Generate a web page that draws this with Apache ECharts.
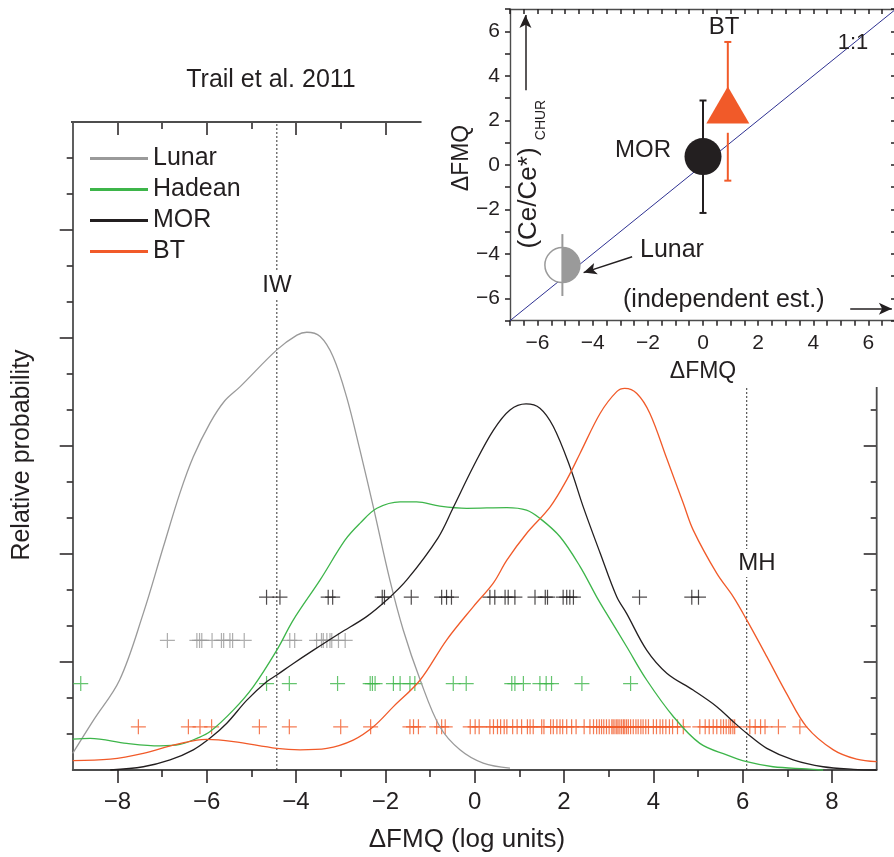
<!DOCTYPE html>
<html>
<head>
<meta charset="utf-8">
<title>Trail et al. 2011 - ΔFMQ</title>
<script src="https://cdn.jsdelivr.net/npm/echarts@6/dist/echarts.min.js"></script>
<style>
    html, body {margin:0; padding:0; background:#fff;}
    #chart {width:894px; height:857px;}
</style>
</head>
<body>
<div id="chart"></div>
<script>
// ---- main panel: density curves [ΔFMQ, relative probability]
var lunarCurve = [[-9,0.46],[-8.53,1.39],[-7.95,2.5],[-7.42,4.35],[-6.97,6.2],[-6.6,7.69],[-6.3,8.7],[-5.93,9.63],[-5.6,10.25],[-5.25,10.65],[-4.43,11.67],[-3.98,12.08],[-3.76,12.16],[-3.46,12.04],[-3.17,11.48],[-2.87,10.37],[-2.57,8.89],[-2.27,7.31],[-1.9,5.28],[-1.6,3.89],[-1.22,2.5],[-0.78,1.2],[-0.33,0.56],[0.19,0.19],[0.79,0.05]];
var hadeanCurve = [[-9,0.86],[-8.61,0.88],[-7.79,0.74],[-7.05,0.67],[-6.6,0.71],[-6.22,0.88],[-5.93,1.06],[-5.4,1.67],[-4.96,2.31],[-4.43,3.33],[-4.06,4.17],[-3.46,5.28],[-2.9,6.39],[-2.57,6.85],[-2.19,7.27],[-1.67,7.45],[-1.3,7.45],[-0.78,7.33],[-0.18,7.27],[0.72,7.29],[1.16,7.22],[1.46,6.99],[1.91,6.48],[2.36,5.65],[2.73,4.81],[2.95,4.35],[3.4,3.43],[3.85,2.5],[4.45,1.48],[5.04,0.74],[5.64,0.42],[6.09,0.23],[6.68,0.09],[7.43,0.03],[7.8,0]];
var morCurve = [[-8.16,0],[-7.42,0.09],[-6.82,0.28],[-6.3,0.56],[-5.93,0.88],[-5.55,1.3],[-5.1,1.94],[-4.66,2.45],[-4.43,2.64],[-4.06,2.96],[-3.61,3.33],[-3.02,3.8],[-2.42,4.26],[-1.97,4.72],[-1.52,5.28],[-0.82,6.45],[-0.48,7.29],[-0.03,8.43],[0.42,9.44],[0.79,10.0],[1.15,10.17],[1.46,10.05],[1.76,9.54],[2.13,8.43],[2.43,7.31],[2.81,6.02],[3.18,4.81],[3.4,4.35],[3.85,3.33],[4.3,2.69],[4.89,2.22],[5.42,1.76],[5.79,1.34],[6.09,1.02],[6.54,0.6],[7.13,0.28],[7.8,0.09],[8.48,0.02],[9,0]];
var btCurve = [[-9,0.26],[-8.16,0.3],[-7.42,0.46],[-6.75,0.69],[-6.22,0.83],[-6,0.85],[-5.4,0.79],[-4.43,0.6],[-3.91,0.56],[-3.31,0.6],[-2.72,0.83],[-2.27,1.2],[-1.82,1.76],[-1.22,2.5],[-0.63,3.61],[-0.03,4.54],[0.42,5.2],[0.72,5.83],[1.16,6.57],[1.69,7.31],[2.06,8.06],[2.36,8.8],[2.81,9.91],[3.18,10.51],[3.36,10.6],[3.63,10.46],[3.92,9.91],[4.3,8.65],[4.67,7.41],[4.89,6.67],[5.42,5.46],[5.79,4.81],[6.09,4.17],[6.54,3.15],[6.98,2.13],[7.43,1.2],[8.03,0.56],[8.55,0.3],[9,0.23]];

// individual analyses (crosses), ΔFMQ of each
var morPts = [-4.66,-4.36,-3.28,-3.18,-2.07,-2.02,-1.42,-0.74,-0.63,-0.52,0.34,0.45,0.68,0.75,0.9,1.35,1.58,1.63,1.98,2.06,2.13,2.21,3.69,4.86,5.01];
var lunarPts = [-6.88,-6.22,-6.16,-6.11,-5.88,-5.67,-5.62,-5.48,-5.42,-5.16,-4.14,-4.03,-3.54,-3.43,-3.39,-3.31,-3.24,-3.2,-3.05,-2.9];
var hadeanPts = [-8.82,-4.66,-4.15,-3.07,-2.34,-2.29,-2.23,-1.82,-1.67,-1.45,-1.34,-0.48,-0.19,0.83,0.9,1.09,1.46,1.6,1.72,2.4,3.49];
var btPts = [-7.53,-6.41,-6.15,-5.89,-4.82,-4.15,-3.0,-2.33,-1.45,-1.37,-1.26,-0.85,-0.74,-0.66,
    -0.1,0.01,0.1,0.34,0.42,0.51,0.58,0.66,0.72,0.85,0.95,1.05,1.18,1.24,1.31,1.5,1.55,1.7,1.76,1.84,1.91,1.97,
    2.06,2.17,2.27,2.45,2.58,2.66,2.73,2.79,2.84,2.89,2.95,3.01,3.07,3.1,3.14,3.18,3.21,3.25,3.29,3.33,3.36,3.4,
    3.44,3.49,3.55,3.61,3.66,3.72,3.77,3.83,3.89,4.0,4.07,4.15,4.21,4.28,4.36,4.43,4.54,4.67,
    5.04,5.16,5.25,5.34,5.42,5.51,5.57,5.63,5.69,5.73,5.78,5.82,6.16,6.28,6.4,6.5,6.8,7.28];
var rowY = {BT: 1.2, Hadean: 2.4, Lunar: 3.6, MOR: 4.8};

// buffers
var IW = -4.43, MH = 6.09;
var mhTop = 10.64;

// frame pieces of the main panel (data units)
var topFrame = [[-9.28, 18], [-1.19, 18]];
var rightFrame = [[9, 0], [9, mhTop]];

// ---- inset: (Ce/Ce*)CHUR estimate vs independent estimate
var oneToOne = [[-7, -7], [7, 7]];
var insetMOR = [0, 0.37];
var insetBT = [0.9, 2.69];
var insetLunar = [-5.1, -4.5];
// [x, low, high, cap at low, cap at high]
var morBars = [[0, -2.16, 2.89, 1, 1]];
var btBars = [[0.9, 2.69, 5.52, 0, 1], [0.9, -0.71, 1.44, 1, 0]];
var lunarBars = [[-5.1, -5.89, -3.11, 0, 0]];
var lunarArrow = [[-2.57, -4.13], [-4.33, -4.84]];
var upArrow = [[-6.44, 3.35], [-6.44, 6.73]];
var rightArrow = [[5.34, -6.46], [6.85, -6.46]];

var FONT = '"Liberation Sans", Arial, sans-serif';
var INK = '#231f20';
var AX = '#4d4d4d';
var C = {Lunar: '#9a9a9a', Hadean: '#3db54a', MOR: '#231f20', BT: '#f15a29'};
var PLUS = 'path://M-1,-0.08H1V0.08H-1ZM-0.08,-1H0.08V1H-0.08Z';

function minus(v) { return String(v).replace('-', '\u2212'); }
function range(a, b, step) { var r = []; for (var v = a; v <= b + 1e-9; v += step) r.push(+v.toFixed(2)); return r; }

function curve(name, data) {
    return {type: 'line', name: name, data: data, smooth: 0.35, showSymbol: false, clip: false,
        xAxisIndex: 0, yAxisIndex: 0, z: 3,
        lineStyle: {color: C[name], width: 1.3}, itemStyle: {color: C[name]}};
}
function crosses(name, xs) {
    return {type: 'scatter', name: name + ' pts', data: xs.map(function (x) { return [x, rowY[name]]; }),
        symbol: PLUS, symbolSize: 15, xAxisIndex: 0, yAxisIndex: 0, z: 2, silent: true,
        itemStyle: {color: C[name], opacity: 0.8}};
}
function frame(data) {
    return {type: 'line', data: data, showSymbol: false, clip: false, silent: true, xAxisIndex: 0, yAxisIndex: 0,
        lineStyle: {color: AX, width: 1.8}};
}
function buffer(data, name) {
    return {type: 'line', name: name, data: data, showSymbol: false, silent: true, xAxisIndex: 0, yAxisIndex: 0, z: 1,
        lineStyle: {color: '#333', width: 1, type: [2, 2]}};
}
function errBars(data, color, w) {
    return {type: 'custom', data: data, xAxisIndex: 4, yAxisIndex: 4, z: 6, silent: true,
        encode: {x: 0, y: [1, 2]},
        renderItem: function (params, api) {
            var x = api.value(0);
            var a = api.coord([x, api.value(1)]), b = api.coord([x, api.value(2)]);
            var st = {stroke: color, lineWidth: w};
            var kids = [{type: 'line', shape: {x1: a[0], y1: a[1], x2: b[0], y2: b[1]}, style: st}];
            if (api.value(3)) kids.push({type: 'line', shape: {x1: a[0] - 3.5, y1: a[1], x2: a[0] + 3.5, y2: a[1]}, style: st});
            if (api.value(4)) kids.push({type: 'line', shape: {x1: b[0] - 3.5, y1: b[1], x2: b[0] + 3.5, y2: b[1]}, style: st});
            return {type: 'group', children: kids};
        }};
}
function txt(str, x, y, size, align, rot, bg) {
    var st = {text: str, font: size + 'px ' + FONT, fill: INK,
        align: align || 'center', verticalAlign: 'middle',
        textAlign: align || 'center', textVerticalAlign: 'middle'};
    if (bg) { st.backgroundColor = '#fff'; st.padding = [2, 2]; }
    return {type: 'text', x: x, y: y, rotation: rot || 0, silent: true, z: 100, style: st};
}

var tickStyle = {color: INK, width: 1.5};
var noLine = {show: false, onZero: false};
var noLabel = {show: false};

var option = {
    animation: false,
    backgroundColor: '#fff',
    grid: [
        {left: 72.7, top: 122, width: 804, height: 648, containLabel: false, outerBoundsMode: 'none'},
        {left: 510, top: 9, width: 386, height: 311.7, containLabel: false, outerBoundsMode: 'none'}
    ],
    xAxis: [
        {type: 'value', gridIndex: 0, min: -9, max: 9, position: 'bottom',
            axisLine: {show: true, onZero: false, lineStyle: {color: AX, width: 1.8}},
            axisTick: {show: true, length: 13, lineStyle: tickStyle, customValues: range(-8, 8, 2)},
            axisLabel: {show: true, customValues: range(-8, 8, 2), formatter: minus, fontSize: 24,
                fontFamily: FONT, color: INK, margin: 20},
            splitLine: {show: false}},
        {type: 'value', gridIndex: 0, min: -9, max: 9, position: 'bottom', axisLine: noLine,
            axisTick: {show: true, length: 7, lineStyle: tickStyle, customValues: range(-7, 7, 2)},
            axisLabel: noLabel, splitLine: {show: false}},
        {type: 'value', gridIndex: 0, min: -9, max: 9, position: 'top', axisLine: noLine,
            axisTick: {show: true, inside: true, length: 13, lineStyle: tickStyle, customValues: [-8, -6, -4, -2]},
            axisLabel: noLabel, splitLine: {show: false}},
        {type: 'value', gridIndex: 0, min: -9, max: 9, position: 'top', axisLine: noLine,
            axisTick: {show: true, inside: true, length: 7, lineStyle: tickStyle, customValues: [-7, -5, -3]},
            axisLabel: noLabel, splitLine: {show: false}},
        {type: 'value', gridIndex: 1, min: -7, max: 7, interval: 0.5, position: 'bottom',
            axisLine: {show: true, onZero: false, lineStyle: {color: AX, width: 1.4}},
            axisTick: {show: true, length: 5, lineStyle: tickStyle},
            axisLabel: {show: true, customValues: range(-6, 6, 2), formatter: minus, fontSize: 21,
                fontFamily: FONT, color: INK, margin: 12},
            splitLine: {show: false}},
        {type: 'value', gridIndex: 1, min: -7, max: 7, interval: 0.5, position: 'top',
            axisLine: {show: true, onZero: false, lineStyle: {color: AX, width: 1.4}},
            axisTick: {show: true, inside: true, length: 5, lineStyle: tickStyle},
            axisLabel: noLabel, splitLine: {show: false}}
    ],
    yAxis: [
        {type: 'value', gridIndex: 0, min: 0, max: 18, position: 'left',
            axisLine: {show: true, onZero: false, lineStyle: {color: AX, width: 1.8}},
            axisTick: {show: true, length: 13, lineStyle: tickStyle, customValues: [3, 6, 9, 12, 15]},
            axisLabel: noLabel, splitLine: {show: false}},
        {type: 'value', gridIndex: 0, min: 0, max: 18, position: 'left', axisLine: noLine,
            axisTick: {show: true, length: 6, lineStyle: tickStyle, customValues: [1, 2, 4, 5, 7, 8, 10, 11, 13, 14, 16, 17]},
            axisLabel: noLabel, splitLine: {show: false}},
        {type: 'value', gridIndex: 0, min: 0, max: 18, position: 'right', axisLine: noLine,
            axisTick: {show: true, inside: true, length: 13, lineStyle: tickStyle, customValues: [3, 6, 9]},
            axisLabel: noLabel, splitLine: {show: false}},
        {type: 'value', gridIndex: 0, min: 0, max: 18, position: 'right', axisLine: noLine,
            axisTick: {show: true, inside: true, length: 6, lineStyle: tickStyle, customValues: [1, 2, 4, 5, 7, 8, 10]},
            axisLabel: noLabel, splitLine: {show: false}},
        {type: 'value', gridIndex: 1, min: -7, max: 7, interval: 1, position: 'left',
            axisLine: {show: true, onZero: false, lineStyle: {color: AX, width: 1.4}},
            axisTick: {show: true, length: 5, lineStyle: tickStyle},
            axisLabel: {show: true, customValues: range(-6, 6, 2), formatter: minus, fontSize: 21,
                fontFamily: FONT, color: INK, margin: 10},
            splitLine: {show: false}},
        {type: 'value', gridIndex: 1, min: -7, max: 7, interval: 1, position: 'right',
            axisLine: {show: true, onZero: false, lineStyle: {color: AX, width: 1.4}},
            axisTick: {show: true, inside: true, length: 5, lineStyle: tickStyle},
            axisLabel: noLabel, splitLine: {show: false}}
    ],
    legend: {data: ['Lunar', 'Hadean', 'MOR', 'BT'], orient: 'vertical', left: 90, top: 146, padding: 0,
        itemWidth: 58, itemHeight: 3, itemGap: 6, icon: 'rect', selectedMode: false,
        textStyle: {fontSize: 25, lineHeight: 25, fontFamily: FONT, color: INK}},
    graphic: [
        txt('Trail et al. 2011', 271, 80, 25),
        txt('Relative probability', 22, 455, 25, 'center', Math.PI / 2),
        txt('\u0394FMQ (log units)', 467, 840, 26),
        txt('IW', 277, 285, 24, 'center', 0, true),
        txt('MH', 757, 563, 24, 'center', 0, true),
        txt('\u0394FMQ', 703, 372, 23),
        txt('\u0394FMQ', 462, 158, 23, 'center', Math.PI / 2),
        txt('(Ce/Ce*)', 529, 198, 26, 'center', Math.PI / 2),
        txt('CHUR', 541, 120, 14, 'center', Math.PI / 2),
        txt('MOR', 671, 150, 24, 'right'),
        txt('BT', 724, 27, 24),
        txt('1:1', 853, 43, 22),
        txt('Lunar', 640, 250, 25, 'left'),
        txt('(independent est.)', 623, 300, 25, 'left')
    ],
    series: [
        buffer([[IW, 0], [IW, 18]], 'IW'),
        buffer([[MH, 0], [MH, mhTop]], 'MH'),
        frame(topFrame),
        frame(rightFrame),
        crosses('MOR', morPts),
        crosses('Lunar', lunarPts),
        crosses('Hadean', hadeanPts),
        crosses('BT', btPts),
        curve('Lunar', lunarCurve),
        curve('Hadean', hadeanCurve),
        curve('MOR', morCurve),
        curve('BT', btCurve),
        // inset
        {type: 'line', data: oneToOne, xAxisIndex: 4, yAxisIndex: 4, showSymbol: false, silent: true, z: 3,
            lineStyle: {color: '#2e3192', width: 1},
            markLine: {silent: true, symbol: ['none', 'arrow'], symbolSize: [9, 13], label: {show: false},
                lineStyle: {color: INK, width: 1.5, type: 'solid'},
                data: [lunarArrow, upArrow, rightArrow].map(function (a) {
                    return [{coord: a[0]}, {coord: a[1]}];
                })}},
        {type: 'custom', data: [insetLunar], xAxisIndex: 4, yAxisIndex: 4, z: 4, silent: true,
            renderItem: function (params, api) {
                var p = api.coord([api.value(0), api.value(1)]);
                var r = 17.5;
                return {type: 'group', children: [
                    {type: 'circle', shape: {cx: p[0], cy: p[1], r: r}, style: {fill: '#fff', stroke: C.Lunar, lineWidth: 1.5}},
                    {type: 'sector', shape: {cx: p[0], cy: p[1], r0: 0, r: r, startAngle: -Math.PI / 2, endAngle: Math.PI / 2, clockwise: true},
                        style: {fill: C.Lunar}}
                ]};
            }},
        errBars(lunarBars, C.Lunar, 2),
        errBars(morBars, C.MOR, 2),
        errBars(btBars, C.BT, 2),
        {type: 'scatter', data: [insetMOR], xAxisIndex: 4, yAxisIndex: 4, z: 7, silent: true,
            symbol: 'circle', symbolSize: 37, itemStyle: {color: C.MOR, opacity: 1}},
        {type: 'scatter', data: [insetBT], xAxisIndex: 4, yAxisIndex: 4, z: 7, silent: true,
            symbol: 'triangle', symbolSize: [43, 37], itemStyle: {color: C.BT, opacity: 1}}
    ]
};

var chart = echarts.init(document.getElementById('chart'), null, {renderer: 'canvas'});
chart.setOption(option);
</script>
</body>
</html>
